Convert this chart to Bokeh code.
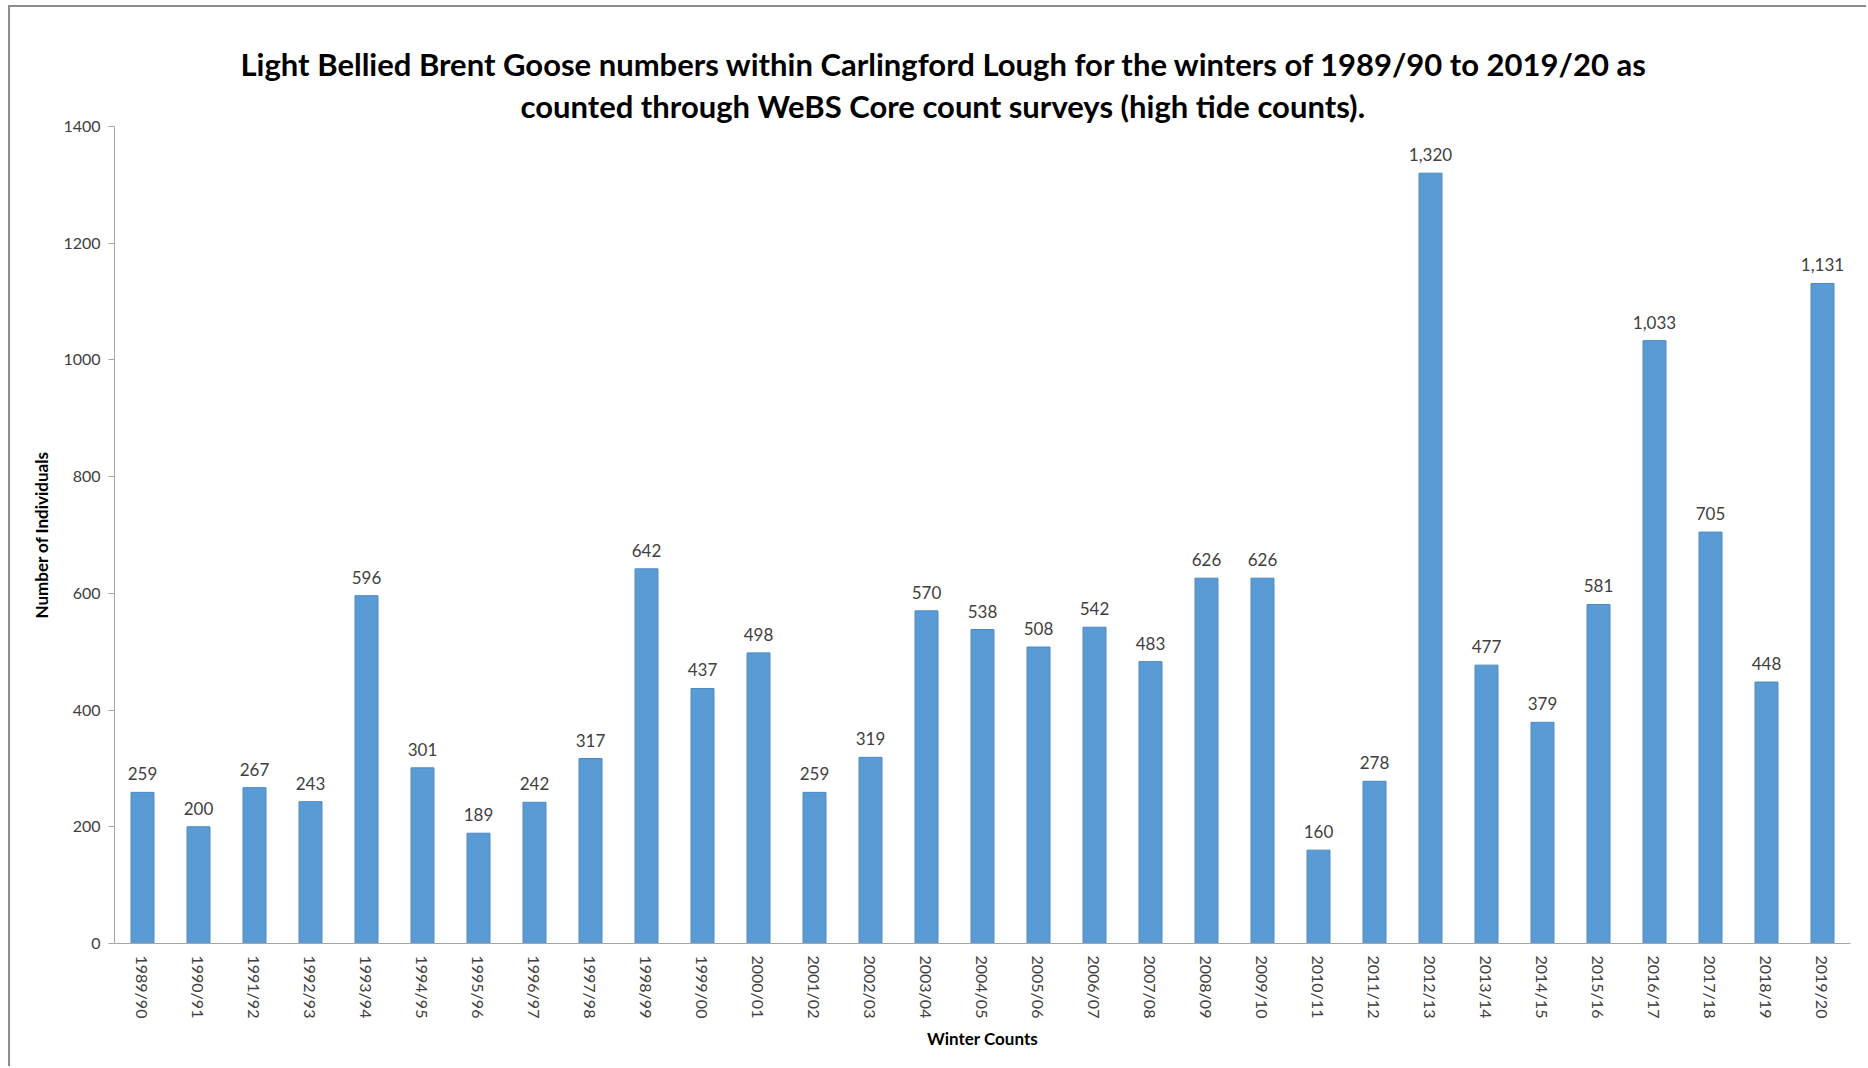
from bokeh.plotting import figure
from bokeh.models import FactorRange, Range1d, FixedTicker, ColumnDataSource, LabelSet, Title
from bokeh.core.properties import value
from bokeh.embed import file_html
from bokeh.resources import INLINE
import math

winters = ["1989/90", "1990/91", "1991/92", "1992/93", "1993/94", "1994/95", "1995/96",
           "1996/97", "1997/98", "1998/99", "1999/00", "2000/01", "2001/02", "2002/03",
           "2003/04", "2004/05", "2005/06", "2006/07", "2007/08", "2008/09", "2009/10",
           "2010/11", "2011/12", "2012/13", "2013/14", "2014/15", "2015/16", "2016/17",
           "2017/18", "2018/19", "2019/20"]
counts = [259, 200, 267, 243, 596, 301, 189, 242, 317, 642, 437, 498, 259, 319, 570, 538,
          508, 542, 483, 626, 626, 160, 278, 1320, 477, 379, 581, 1033, 705, 448, 1131]
y_ticks = [0, 200, 400, 600, 800, 1000, 1200, 1400]

title_line1 = "Light Bellied Brent Goose numbers within Carlingford Lough for the winters of 1989/90 to 2019/20 as"
title_line2 = "counted through WeBS Core count surveys (high tide counts)."

FONT = "Lato"

src = ColumnDataSource(dict(x=winters, y=counts, lab=[f"{v:,}" for v in counts]))

p = figure(width=1858, height=1061, x_range=FactorRange(*winters), y_range=Range1d(0, 1400),
           output_backend="svg", toolbar_location=None, title=None,
           min_border_left=104, min_border_right=18, min_border_top=119, min_border_bottom=125)
p.styles = {"border-left": "2px solid #8C8C8C", "border-top": "2px solid #8C8C8C",
            "margin-left": "8px", "margin-top": "5px"}
p.x_range.range_padding = 0
p.outline_line_color = None
p.background_fill_color = "white"
p.border_fill_color = "white"
p.xgrid.grid_line_color = None
p.ygrid.grid_line_color = None

p.vbar(x="x", top="y", width=0.41, source=src, fill_color="#5B9BD5", line_color="#4A89C4", line_width=1)

labels = LabelSet(x="x", y="y", text="lab", source=src, text_align="center", text_baseline="bottom",
                  y_offset=12, text_font_size="17px", text_color="#404040", text_font=value(FONT))
p.add_layout(labels)

# axes
p.yaxis.ticker = FixedTicker(ticks=y_ticks)
p.yaxis.axis_line_color = "#A6A6A6"
p.yaxis.major_tick_line_color = "#A6A6A6"
p.yaxis.major_tick_out = 6
p.yaxis.major_tick_in = 0
p.yaxis.minor_tick_line_color = None
p.yaxis.major_label_standoff = 8
p.yaxis.major_label_text_font = FONT
p.yaxis.major_label_text_font_size = "16px"
p.yaxis.major_label_text_color = "#404040"
p.yaxis.axis_label = "Number of Individuals"
p.yaxis.axis_label_text_font = FONT
p.yaxis.axis_label_text_font_size = "17px"
p.yaxis.axis_label_text_font_style = "bold"
p.yaxis.axis_label_text_color = "#000000"
p.yaxis.axis_label_standoff = 8

p.xaxis.axis_line_color = "#A6A6A6"
p.xaxis.major_tick_line_color = None
p.xaxis.minor_tick_line_color = None
p.xaxis.major_label_orientation = -math.pi / 2
p.xaxis.major_label_standoff = 6
p.xaxis.major_label_text_font = FONT
p.xaxis.major_label_text_font_size = "16px"
p.xaxis.major_label_text_color = "#404040"
p.xaxis.axis_label = "Winter Counts"
p.xaxis.axis_label_text_font = FONT
p.xaxis.axis_label_text_font_size = "17px"
p.xaxis.axis_label_text_font_style = "bold"
p.xaxis.axis_label_text_color = "#000000"
p.xaxis.axis_label_standoff = 7

# two-line title: second line added first so it sits closest to the plot
for txt, so, off in ((title_line2, 4, 406), (title_line1, 0, 126)):
    t = Title(text=txt, align="left", text_font=FONT, text_font_size="31px",
              text_font_style="bold", text_color="#000000", standoff=so, offset=off)
    p.add_layout(t, "above")

open("out.html", "w").write(file_html(p, INLINE))
